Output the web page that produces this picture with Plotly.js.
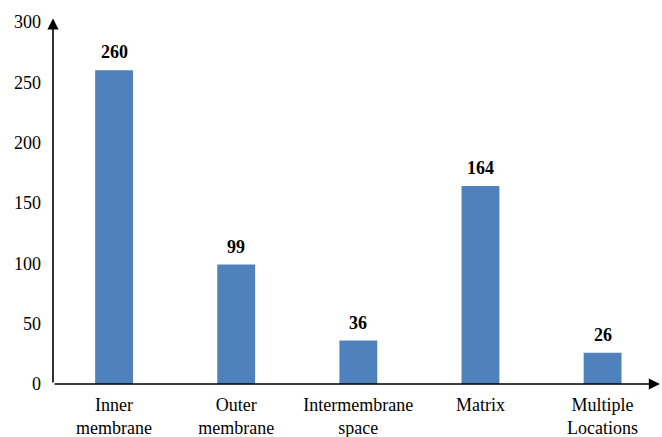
<!DOCTYPE html>
<html><head><meta charset="utf-8">
<script src="https://cdn.plot.ly/plotly-3.0.1.min.js"></script>
<style>html,body{margin:0;padding:0;background:#fff}#chart{width:662px;height:437px}</style>
</head><body><div id="chart"></div>
<script>
const categories = ["Inner<br>membrane", "Outer<br>membrane", "Intermembrane<br>space", "Matrix", "Multiple<br>Locations"];
const counts = [260, 99, 36, 164, 26];
const yTicks = [0, 50, 100, 150, 200, 250, 300];

const FONT = "Liberation Serif";
const idx = categories.map((c, i) => i);

const trace = {
  type: "bar",
  x: idx,
  y: counts,
  width: 0.31,
  marker: {color: "#4F81BD"},
  hoverinfo: "none"
};

const labelAnns = counts.map((v, i) => ({
  x: i, y: v, xref: "x", yref: "y",
  text: "<b>" + v + "</b>", showarrow: false,
  yanchor: "bottom", yshift: 6,
  font: {family: FONT, size: 18, color: "#000"}
}));

const axisAnns = [
  {x: 4.47, y: 0, ax: -0.5, ay: 0, xref: "x", yref: "y", axref: "x", ayref: "y",
   showarrow: true, arrowhead: 2, arrowsize: 1.4, arrowwidth: 1.6, arrowcolor: "#000", text: ""},
  {x: -0.5, y: 303, ax: -0.5, ay: 0, xref: "x", yref: "y", axref: "x", ayref: "y",
   showarrow: true, arrowhead: 2, arrowsize: 1.4, arrowwidth: 1.6, arrowcolor: "#000", text: ""}
];

const layout = {
  width: 662, height: 437,
  margin: {l: 53, r: 2, t: 22, b: 53},
  paper_bgcolor: "#fff", plot_bgcolor: "#fff",
  showlegend: false,
  xaxis: {
    range: [-0.5, 4.47], tickvals: idx, ticktext: categories,
    showgrid: false, zeroline: false, showline: false, ticks: "",
    ticklabelstandoff: 8,
    tickfont: {family: FONT, size: 18, color: "#000"}, fixedrange: true
  },
  yaxis: {
    range: [0, 300], tickvals: yTicks, showgrid: false, zeroline: false,
    showline: false, ticks: "", ticklabelstandoff: 11,
    tickfont: {family: FONT, size: 18, color: "#000"}, fixedrange: true
  },
  annotations: labelAnns.concat(axisAnns)
};

Plotly.newPlot("chart", [trace], layout, {displayModeBar: false, staticPlot: true});
</script></body></html>
